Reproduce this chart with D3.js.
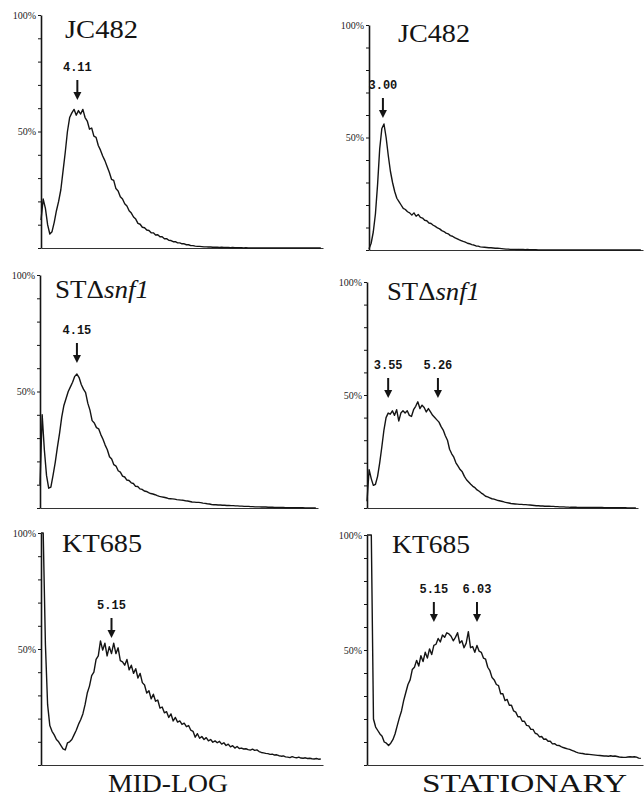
<!DOCTYPE html>
<html><head><meta charset="utf-8">
<script src="https://cdn.jsdelivr.net/npm/d3@7"></script>
<style>body{margin:0;background:#fff}svg{display:block}</style>
</head><body>
<svg id="chart" width="644" height="798"></svg>
<script>
// ---- data ----
const channelStep = 2; // values sampled every 2 channels, 0..254
const strainNames = ["JC482", "JC482", "ST\u0394", "ST\u0394", "KT685", "KT685"];
const strainItalic = ["", "", "snf1", "snf1", "", ""];
const conditionLabels = ["MID-LOG", "STATIONARY"];
const peakLabels = [["4.11"], ["3.00"], ["4.15"], ["3.55", "5.26"], ["5.15"], ["5.15", "6.03"]];
const peakChannels = [[33], [13], [34], [20, 67], [64], [62, 102]];
const yTickValues = [0, 10, 20, 30, 40, 50, 60, 70, 80, 90, 100];
const yTickLabels = { 100: "100%", 50: "50%" };

const jc482MidLog = [
  12, 21, 17, 10, 6, 7, 11, 16, 20, 25,
  33, 41, 50, 56, 58, 59.5, 57, 59, 57.5, 59.5,
  56, 54.5, 51, 51.5, 48, 47.5, 44, 42, 39.5, 37.5,
  35, 32.5, 29.5, 29, 25.5, 24.5, 22, 21, 19, 18,
  16, 15, 13.3, 12.4, 10.6, 10.2, 8.9, 8.7, 7.7, 7.5,
  6.5, 6.5, 5.6, 5.7, 4.8, 4.8, 4, 4, 3.3, 3.2,
  2.7, 2.7, 2.2, 2.2, 1.8, 1.8, 1.4, 1.4, 1.0, 1.0,
  0.8, 0.7, 0.7, 0.6, 0.5, 0.5, 0.4, 0.4, 0.3, 0.3,
  0.3, 0.2, 0.3, 0.2, 0.2, 0.2, 0.1, 0.2, 0.1, 0.1,
  0.1, 0.1, 0, 0.1, 0, 0, 0, 0, 0, 0,
  0, 0, 0, 0, 0, 0, 0, 0, 0, 0,
  0, 0, 0, 0, 0, 0, 0, 0, 0, 0,
  0, 0, 0, 0, 0, 0, 0, 0
];
const jc482Stationary = [
  0.5, 3, 8, 16, 29, 45, 54, 56, 50, 42,
  35, 30, 26, 23, 21.5, 20, 18.5, 18, 17, 16.5,
  15.5, 16.5, 15, 15.8, 14.5, 14.2, 13.2, 13, 12, 11.8,
  11, 10.5, 9.8, 9.4, 8.6, 8.2, 7.5, 7.2, 6.4, 6.1,
  5.5, 5.1, 4.6, 4.2, 3.8, 3.5, 3, 2.8, 2.4, 2.2,
  1.8, 1.7, 1.4, 1.3, 1.2, 1.1, 1, 1, 0.9, 0.8,
  0.8, 0.7, 0.6, 0.5, 0.4, 0.4, 0.3, 0.3, 0.3, 0.2,
  0.3, 0.2, 0.2, 0.1, 0.2, 0.1, 0.1, 0.1, 0.1, 0,
  0, 0, 0, 0, 0, 0, 0, 0, 0, 0,
  0, 0, 0, 0, 0, 0, 0, 0, 0, 0,
  0, 0, 0, 0, 0, 0, 0, 0, 0, 0,
  0, 0, 0, 0, 0, 0, 0, 0, 0, 0,
  0, 0, 0, 0, 0, 0, 0, 0
];
const snf1MidLog = [
  10, 40, 25, 14, 8.5, 9, 14, 19.5, 26, 32,
  39, 44, 47, 50, 52, 54, 56.5, 57.5, 56, 53,
  51, 49.5, 45, 42, 37.5, 36.5, 34.5, 34, 31.5, 29.5,
  27, 25, 22, 21, 18.6, 18, 16, 15.4, 13.7, 13.3,
  12, 11.8, 10.8, 10.5, 9.3, 9.2, 8.2, 8, 7.3, 7.1,
  6.6, 6.2, 6, 5.7, 5.3, 5, 4.8, 4.6, 4.4, 4.1,
  4, 3.9, 3.8, 3.6, 3.5, 3.4, 3.3, 3.1, 3, 2.8,
  2.6, 2.5, 2.4, 2.4, 2.3, 2.1, 2, 1.8, 1.7, 1.5,
  1.4, 1.4, 1.3, 1.3, 1.2, 1.2, 1.1, 1.1, 1, 1,
  0.9, 0.9, 0.8, 0.8, 0.7, 0.7, 0.7, 0.6, 0.6, 0.5,
  0.5, 0.5, 0.4, 0.4, 0.4, 0.3, 0.3, 0.3, 0.2, 0.2,
  0.2, 0.2, 0.2, 0.1, 0.1, 0.1, 0.1, 0.1, 0.1, 0.1,
  0.1, 0.1, 0, 0, 0, 0, 0, 0
];
const snf1Stationary = [
  3, 17, 13, 10, 10.5, 14, 20, 27, 34.5, 40,
  42, 41.5, 43, 41, 43.5, 38.5, 42, 43, 42, 43,
  41, 40.5, 43.5, 45, 47, 44, 45.5, 44.5, 42.5, 44,
  42.5, 41, 40, 39, 38, 36, 34.5, 32, 30, 26,
  24, 22.5, 20, 18.5, 17, 16, 14, 12.5, 11.5, 10.5,
  9.6, 9, 8, 7.4, 6.6, 6, 5.2, 4.9, 4.5, 4.1,
  3.9, 3.6, 3.3, 3.1, 2.9, 2.6, 2.4, 2.2, 2, 1.9,
  1.8, 1.7, 1.6, 1.6, 1.5, 1.5, 1.4, 1.3, 1.2, 1.1,
  1, 1, 0.9, 0.9, 0.8, 0.8, 0.8, 0.7, 0.7, 0.6,
  0.6, 0.5, 0.5, 0.5, 0.4, 0.4, 0.3, 0.3, 0.3, 0.3,
  0.2, 0.2, 0.2, 0.2, 0.2, 0.2, 0.2, 0.2, 0.2, 0.2,
  0.2, 0.2, 0.1, 0.1, 0.1, 0.1, 0.1, 0.1, 0.1, 0.1,
  0.1, 0.1, 0.1, 0, 0, 0, 0, 0
];
const kt685MidLog = [
  100, 100, 52, 26, 17, 14.5, 13, 11, 10, 8.5,
  7, 6.5, 9.5, 10, 11, 13, 15, 17.5, 19.5, 22,
  26, 31, 34, 38.5, 40, 45.5, 47, 53.5, 49.5, 52.5,
  47, 51, 48, 52.5, 48, 50.5, 45, 44.5, 43, 45.5,
  41, 43, 39.5, 41.5, 37.5, 39.5, 35.5, 34.5, 31, 32,
  28.5, 30.5, 27.5, 28, 24.5, 25, 22.5, 23, 20.5, 22,
  19, 20.5, 18.5, 19, 17.5, 18, 16.5, 17, 15, 14.5,
  12, 13.5, 11.5, 12.3, 11, 11.8, 10.4, 11, 9.8, 10.4,
  9.6, 10.2, 9, 9.6, 8.4, 9, 7.8, 8.3, 7.3, 8,
  7.1, 7.3, 6.9, 7, 6.6, 6.4, 6.8, 6.3, 6.5, 5.8,
  5.4, 5.2, 5, 4.9, 4.6, 4.7, 4.3, 4.4, 4, 3.8,
  3.9, 3.5, 3.4, 3.2, 3.6, 3.3, 3.1, 3.4, 3, 2.9,
  3.1, 2.8, 2.9, 2.7, 2.6, 2.8, 2.5, 2.6
];
const kt685Stationary = [
  100, 100, 100, 20, 16.5, 15, 13.5, 12.5, 10, 9.5,
  8.5, 9.5, 11, 13.5, 17, 20.5, 23.5, 28, 31.5, 35,
  37, 41.5, 42.5, 45.5, 43, 47.5, 45, 49, 46.5, 50.5,
  48, 52, 52.5, 55, 53.5, 56.5, 55.5, 57.5, 57, 56,
  54, 55.5, 57.5, 53, 54, 51, 53, 58, 51, 51.5,
  49, 52, 49.5, 49, 46.5, 46, 42.5, 41, 38, 37,
  35, 34.5, 31, 31, 28, 28.5, 26, 26, 23.5, 23,
  21, 21, 19, 19, 17.2, 17, 15.5, 15.5, 13.8, 13.4,
  12.2, 12.4, 11.2, 11.3, 10.3, 10.3, 9.2, 9.3, 8.6, 8.5,
  8, 7.6, 7.3, 7, 6.8, 6.4, 6, 5.6, 5.3, 5.1,
  5, 4.8, 4.7, 4.6, 4.5, 4.4, 4.3, 4.2, 4.1, 4,
  3.9, 3.9, 3.8, 4, 3.8, 3.9, 3.7, 3.5, 3.4, 3.3,
  3.3, 3.5, 3.6, 3.5, 3.6, 3.4, 3, 2.9
];
const series = [jc482MidLog, jc482Stationary, snf1MidLog, snf1Stationary, kt685MidLog, kt685Stationary];

// ---- layout (positions only) ----
const layout = [
  { x0: 41,  x1: 323, top: 15,  base: 248, tx: 65,  ty: 38,  tw: 73, tip: 100 },
  { x0: 369, x1: 643, top: 25,  base: 250, tx: 398, ty: 42,  tw: 72, tip: 118 },
  { x0: 40,  x1: 318, top: 275, base: 508, tx: 55,  ty: 298, tw: 94, tip: 363 },
  { x0: 367, x1: 638, top: 282, base: 508, tx: 387, ty: 300, tw: 93, tip: 398 },
  { x0: 41,  x1: 323, top: 533, base: 765, tx: 62,  ty: 552, tw: 80, tip: 638 },
  { x0: 367, x1: 643, top: 535, base: 765, tx: 392, ty: 553, tw: 78, tip: 622 }
];
const bottomLabels = [{ cx: 168, w: 120 }, { cx: 524.5, w: 205 }];

const ink = "#141414";
const svg = d3.select("#chart");

series.forEach((vals, i) => {
  const L = layout[i];
  const x = d3.scaleLinear().domain([0, 256]).range([L.x0, L.x1]);
  const y = d3.scaleLinear().domain([0, 100]).range([L.base, L.top]);
  const g = svg.append("g");

  // x baseline
  g.append("g").attr("transform", `translate(0,${L.base})`)
    .call(d3.axisBottom(x).tickValues([]).tickSizeOuter(0))
    .call(a => a.select(".domain").attr("stroke", "#333").attr("stroke-width", 1.2));

  // y axis
  g.append("g").attr("transform", `translate(${L.x0},0)`)
    .call(d3.axisLeft(y).tickValues(yTickValues).tickSize(3).tickSizeOuter(0).tickPadding(2)
      .tickFormat(d => yTickLabels[d] || ""))
    .call(a => {
      a.select(".domain").attr("stroke", ink).attr("stroke-width", 1.6);
      a.selectAll(".tick line").attr("stroke", ink).attr("stroke-width", 1);
      a.selectAll(".tick text").attr("font-family", "'Liberation Serif', serif")
        .attr("font-size", 10).attr("fill", "#222");
    });

  // histogram trace
  const line = d3.line()
    .x((d, k) => x(k * channelStep))
    .y(d => y(d));
  g.append("path").datum(vals)
    .attr("d", line)
    .attr("fill", "none")
    .attr("stroke", ink)
    .attr("stroke-width", 1.4)
    .attr("stroke-linejoin", "round");

  // title
  const t = g.append("text")
    .attr("x", L.tx).attr("y", L.ty)
    .attr("font-family", "'Liberation Serif', 'Times New Roman', serif")
    .attr("font-size", 25).attr("fill", ink)
    .attr("textLength", L.tw).attr("lengthAdjust", "spacingAndGlyphs");
  t.append("tspan").text(strainNames[i]);
  if (strainItalic[i]) t.append("tspan").attr("font-style", "italic").text(strainItalic[i]);

  // peak arrows and labels
  peakChannels[i].forEach((ch, j) => {
    const ax = x(ch);
    g.append("line").attr("x1", ax).attr("x2", ax)
      .attr("y1", L.tip - 20).attr("y2", L.tip - 6)
      .attr("stroke", ink).attr("stroke-width", 2);
    g.append("path")
      .attr("d", `M${ax - 4},${L.tip - 8}L${ax + 4},${L.tip - 8}L${ax},${L.tip}Z`)
      .attr("fill", ink);
    g.append("text").attr("x", ax).attr("y", L.tip - 29)
      .attr("text-anchor", "middle")
      .attr("font-family", "'Liberation Mono', 'Courier New', monospace")
      .attr("font-weight", "bold").attr("font-size", 12).attr("fill", ink)
      .text(peakLabels[i][j]);
  });
});

conditionLabels.forEach((lab, i) => {
  svg.append("text")
    .attr("x", bottomLabels[i].cx).attr("y", 792)
    .attr("text-anchor", "middle")
    .attr("font-family", "'Liberation Serif', 'Times New Roman', serif")
    .attr("font-size", 26).attr("fill", ink)
    .attr("textLength", bottomLabels[i].w).attr("lengthAdjust", "spacingAndGlyphs")
    .text(lab);
});
</script>
</body></html>
